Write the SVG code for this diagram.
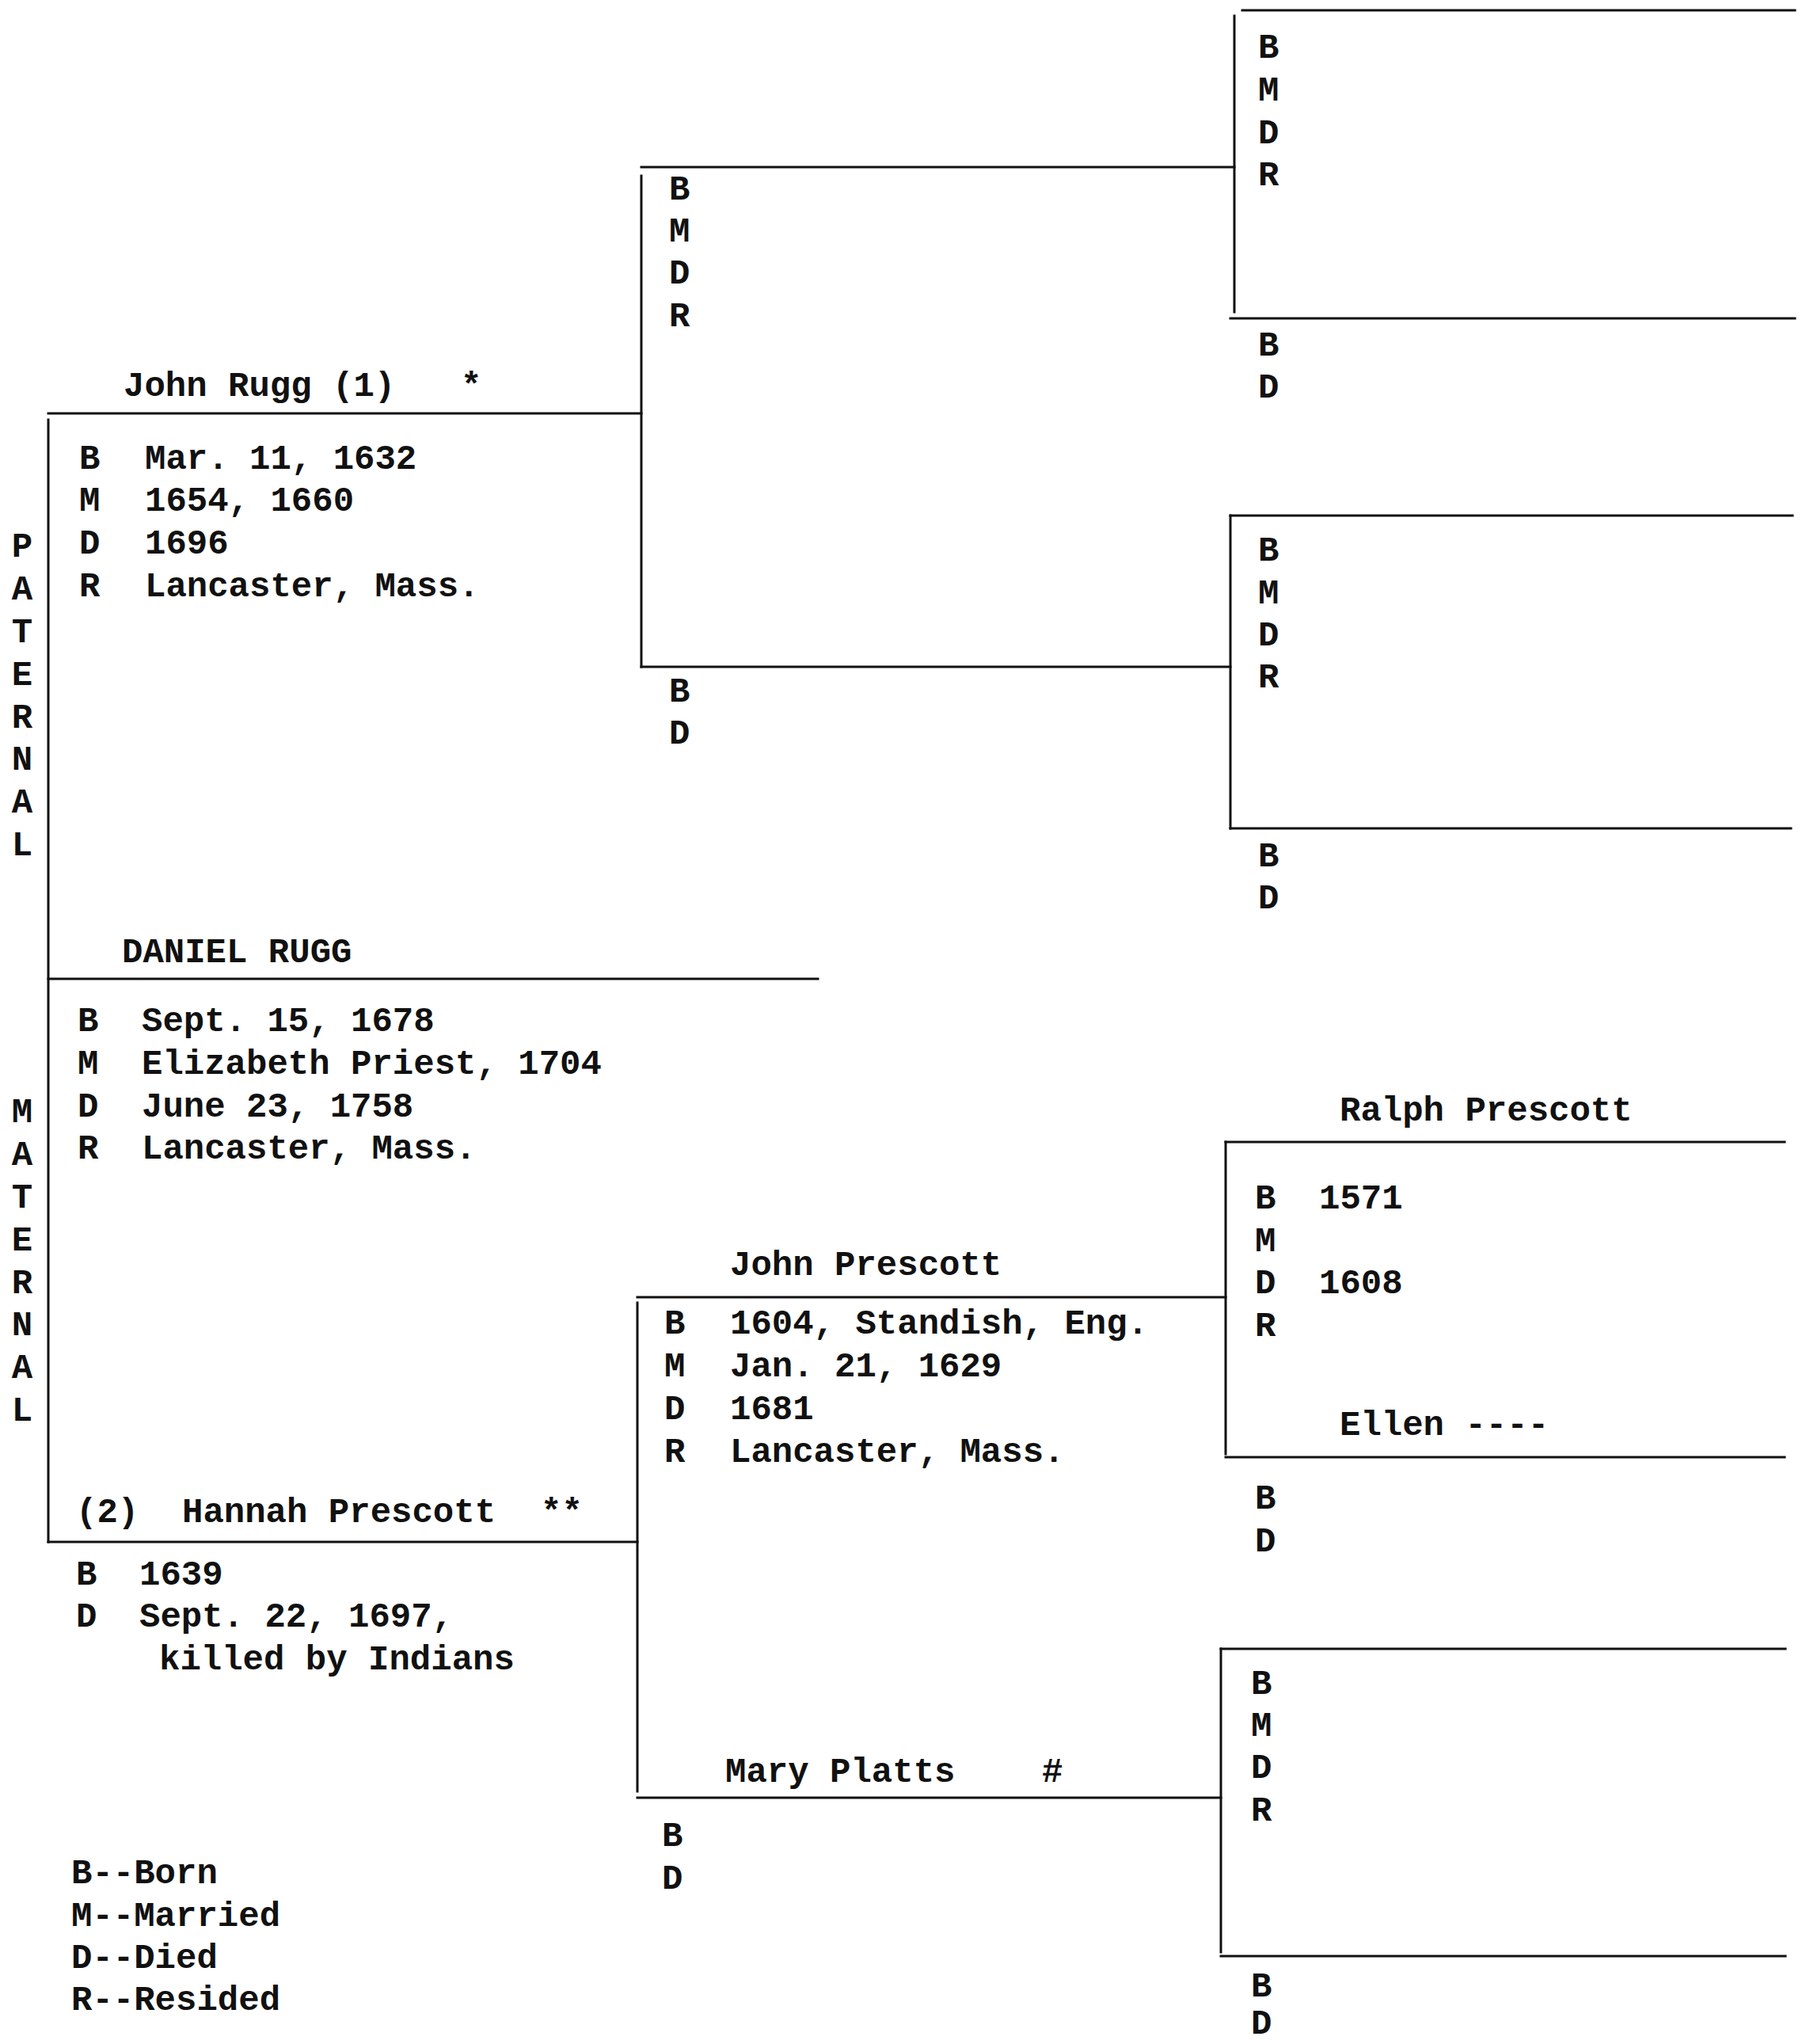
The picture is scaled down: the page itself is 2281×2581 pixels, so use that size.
<svg xmlns="http://www.w3.org/2000/svg" width="2281" height="2581" viewBox="0 0 2281 2581">
<style>
text{font-family:"Liberation Mono","Courier New",monospace;font-size:44px;font-weight:bold;fill:#111}
.v{text-anchor:middle}
line{stroke:#111;stroke-width:3;stroke-linecap:square}
</style>
<rect width="2281" height="2581" fill="#fff"/>
<g id="connectors">
<line x1="61" y1="530" x2="61" y2="1947"/>
<line x1="810" y1="222" x2="810" y2="842"/>
<line x1="1559" y1="20" x2="1559" y2="394"/>
<line x1="1554" y1="651" x2="1554" y2="1046"/>
<line x1="805" y1="1645" x2="805" y2="2262"/>
<line x1="1548" y1="1442" x2="1548" y2="1836"/>
<line x1="1542" y1="2082" x2="1542" y2="2465"/>
</g>
<g id="legend-paternal">
<text class="v" x="28" y="703">P</text><text class="v" x="28" y="757">A</text><text class="v" x="28" y="811">T</text><text class="v" x="28" y="865">E</text><text class="v" x="28" y="919">R</text><text class="v" x="28" y="972">N</text><text class="v" x="28" y="1026">A</text><text class="v" x="28" y="1080">L</text>
</g>
<g id="legend-maternal">
<text class="v" x="28" y="1417">M</text><text class="v" x="28" y="1471">A</text><text class="v" x="28" y="1525">T</text><text class="v" x="28" y="1579">E</text><text class="v" x="28" y="1633">R</text><text class="v" x="28" y="1686">N</text><text class="v" x="28" y="1740">A</text><text class="v" x="28" y="1794">L</text>
</g>
<g id="john-rugg">
<line x1="61" y1="522" x2="810" y2="522"/>
<text x="156" y="500">John Rugg (1)</text><text x="582" y="500">*</text>
<text x="100" y="592">B</text><text x="183" y="592">Mar. 11, 1632</text>
<text x="100" y="645">M</text><text x="183" y="645">1654, 1660</text>
<text x="100" y="699">D</text><text x="183" y="699">1696</text>
<text x="100" y="753">R</text><text x="183" y="753">Lancaster, Mass.</text>
</g>
<g id="paternal-grandfather">
<line x1="810" y1="211" x2="1559" y2="211"/>
<text x="845" y="252">B</text><text x="845" y="305">M</text><text x="845" y="358">D</text><text x="845" y="412">R</text>
</g>
<g id="paternal-grandmother">
<line x1="810" y1="842" x2="1554" y2="842"/>
<text x="845" y="886">B</text><text x="845" y="939">D</text>
</g>
<g id="gen3-1">
<line x1="1569" y1="13" x2="2267" y2="13"/>
<text x="1589" y="73">B</text><text x="1589" y="127">M</text><text x="1589" y="181">D</text><text x="1589" y="234">R</text>
</g>
<g id="gen3-2">
<line x1="1554" y1="402" x2="2267" y2="402"/>
<text x="1589" y="449">B</text><text x="1589" y="502">D</text>
</g>
<g id="gen3-3">
<line x1="1554" y1="651" x2="2264" y2="651"/>
<text x="1589" y="708">B</text><text x="1589" y="762">M</text><text x="1589" y="815">D</text><text x="1589" y="868">R</text>
</g>
<g id="gen3-4">
<line x1="1554" y1="1046" x2="2262" y2="1046"/>
<text x="1589" y="1094">B</text><text x="1589" y="1147">D</text>
</g>
<g id="daniel-rugg">
<line x1="61" y1="1236" x2="1033" y2="1236"/>
<text x="154" y="1215">DANIEL RUGG</text>
<text x="98" y="1302">B</text><text x="179" y="1302">Sept. 15, 1678</text>
<text x="98" y="1356">M</text><text x="179" y="1356">Elizabeth Priest, 1704</text>
<text x="98" y="1410">D</text><text x="179" y="1410">June 23, 1758</text>
<text x="98" y="1463">R</text><text x="179" y="1463">Lancaster, Mass.</text>
</g>
<g id="hannah-prescott">
<line x1="61" y1="1947" x2="805" y2="1947"/>
<text x="96" y="1922">(2)</text><text x="230" y="1922">Hannah Prescott</text><text x="683" y="1922">**</text>
<text x="96" y="2001">B</text><text x="176" y="2001">1639</text>
<text x="96" y="2054">D</text><text x="176" y="2054">Sept. 22, 1697,</text>
<text x="201" y="2108">killed by Indians</text>
</g>
<g id="john-prescott">
<line x1="805" y1="1638" x2="1548" y2="1638"/>
<text x="922" y="1610">John Prescott</text>
<text x="839" y="1684">B</text><text x="922" y="1684">1604, Standish, Eng.</text>
<text x="839" y="1738">M</text><text x="922" y="1738">Jan. 21, 1629</text>
<text x="839" y="1792">D</text><text x="922" y="1792">1681</text>
<text x="839" y="1846">R</text><text x="922" y="1846">Lancaster, Mass.</text>
</g>
<g id="mary-platts">
<line x1="805" y1="2270" x2="1542" y2="2270"/>
<text x="916" y="2250">Mary Platts</text><text x="1316" y="2250">#</text>
<text x="836" y="2331">B</text><text x="836" y="2385">D</text>
</g>
<g id="ralph-prescott">
<line x1="1548" y1="1442" x2="2254" y2="1442"/>
<text x="1692" y="1415">Ralph Prescott</text>
<text x="1585" y="1526">B</text><text x="1666" y="1526">1571</text>
<text x="1585" y="1580">M</text>
<text x="1585" y="1633">D</text><text x="1666" y="1633">1608</text>
<text x="1585" y="1687">R</text>
</g>
<g id="ellen">
<line x1="1548" y1="1840" x2="2254" y2="1840"/>
<text x="1692" y="1812">Ellen ----</text>
<text x="1585" y="1905">B</text><text x="1585" y="1959">D</text>
</g>
<g id="gen3-7">
<line x1="1542" y1="2082" x2="2255" y2="2082"/>
<text x="1580" y="2139">B</text><text x="1580" y="2192">M</text><text x="1580" y="2245">D</text><text x="1580" y="2299">R</text>
</g>
<g id="gen3-8">
<line x1="1542" y1="2470" x2="2255" y2="2470"/>
<text x="1580" y="2521">B</text><text x="1580" y="2568">D</text>
</g>
<g id="key">
<text x="90" y="2378">B--Born</text>
<text x="90" y="2432">M--Married</text>
<text x="90" y="2485">D--Died</text>
<text x="90" y="2538">R--Resided</text>
</g>
</svg>
